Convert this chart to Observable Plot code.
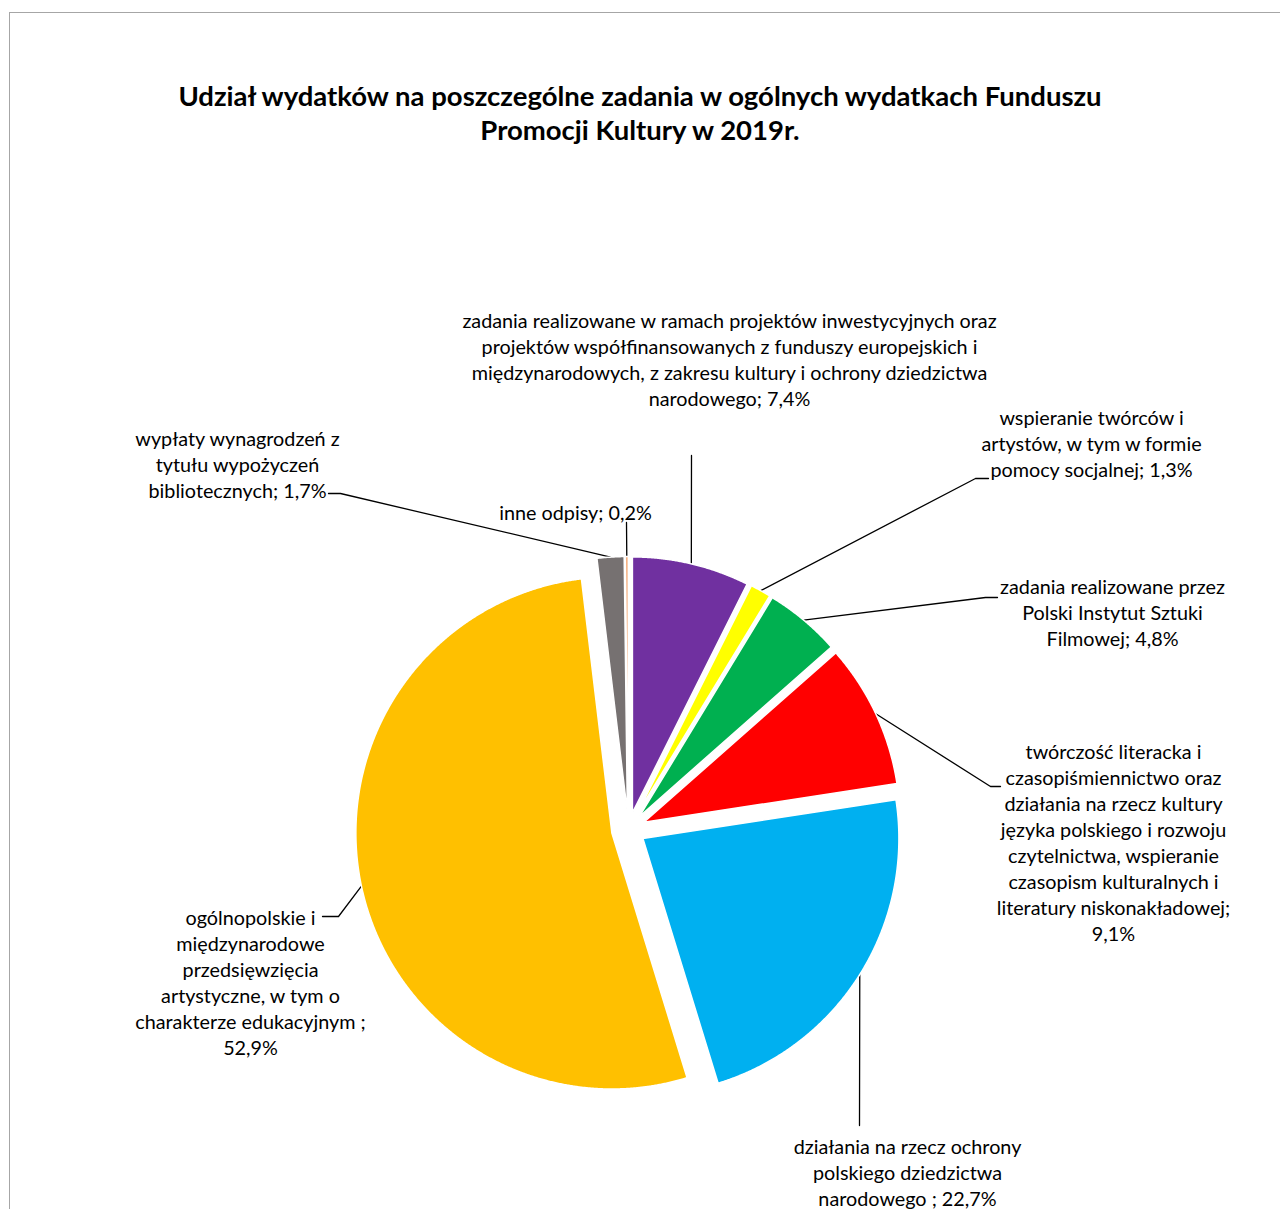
<!DOCTYPE html>
<html>
<head>
<meta charset="utf-8">
<script src="https://cdn.jsdelivr.net/npm/d3@7"></script>
<script src="https://cdn.jsdelivr.net/npm/@observablehq/plot@0.6"></script>
<style>
  html, body { margin: 0; padding: 0; background: #fff; overflow: hidden; }
  #wrap { position: relative; width: 1280px; height: 1209px; overflow: hidden; }
  #frame { position: absolute; left: 9px; top: 12px; width: 1400px; height: 1400px;
           border-left: 1.5px solid #a6a6a6; border-top: 1.5px solid #a6a6a6; box-sizing: border-box; }
  #title { position: relative; height: 170px; box-sizing: border-box; padding-top: 79px;
           text-align: center; font-family: Lato, "Open Sans", sans-serif; font-weight: bold;
           font-size: 27.5px; line-height: 34px; color: #000; }
  #chart { position: relative; }
  #chart svg { background: transparent !important; }
</style>
</head>
<body>
<div id="wrap">
  <div id="frame"></div>
  <div id="title">Udział wydatków na poszczególne zadania w ogólnych wydatkach Funduszu<br>Promocji Kultury w 2019r.</div>
  <div id="chart"></div>
</div>
<script>
// ---- data ----
const categories = [
  "zadania realizowane w ramach projektów inwestycyjnych oraz projektów współfinansowanych z funduszy europejskich i międzynarodowych, z zakresu kultury i ochrony dziedzictwa narodowego",
  "wspieranie twórców i artystów, w tym w formie pomocy socjalnej",
  "zadania realizowane przez Polski Instytut Sztuki Filmowej",
  "twórczość literacka i czasopiśmiennictwo oraz działania na rzecz kultury języka polskiego i rozwoju czytelnictwa, wspieranie czasopism kulturalnych i literatury niskonakładowej",
  "działania na rzecz ochrony polskiego dziedzictwa narodowego",
  "ogólnopolskie i międzynarodowe przedsięwzięcia artystyczne, w tym o charakterze edukacyjnym",
  "wypłaty wynagrodzeń z tytułu wypożyczeń bibliotecznych",
  "inne odpisy"
];
const shares = [7.4, 1.3, 4.8, 9.1, 22.7, 52.9, 1.7, 0.2];
const labelTexts = [
  "zadania realizowane w ramach projektów inwestycyjnych oraz\nprojektów współfinansowanych z funduszy europejskich i\nmiędzynarodowych, z zakresu kultury i ochrony dziedzictwa\nnarodowego; 7,4%",
  "wspieranie twórców i\nartystów, w tym w formie\npomocy socjalnej; 1,3%",
  "zadania realizowane przez\nPolski Instytut Sztuki\nFilmowej; 4,8%",
  "twórczość literacka i\nczasopiśmiennictwo oraz\ndziałania na rzecz kultury\njęzyka polskiego i rozwoju\nczytelnictwa, wspieranie\nczasopism kulturalnych i\nliteratury niskonakładowej;\n9,1%",
  "działania na rzecz ochrony\npolskiego dziedzictwa\nnarodowego ; 22,7%",
  "ogólnopolskie i\nmiędzynarodowe\nprzedsięwzięcia\nartystyczne, w tym o\ncharakterze edukacyjnym ;\n52,9%",
  "wypłaty wynagrodzeń z\ntytułu wypożyczeń\nbibliotecznych; 1,7%",
  "inne odpisy; 0,2%"
];

// ---- styles / layout (not data) ----
const sliceColors = ["#7030a0", "#ffff00", "#00b050", "#ff0000", "#00b0f0", "#ffc000", "#767171", "#f4b183"];
const pieLayout = {cx: 628, cy: 829, r: 256, explode: 17};
// label block centre x, first-line y; leader elbow and end points (page px)
const labelLayout = [
  {x: 729, y: 319, elbow: null, end: [691, 455]},
  {x: 1091, y: 416, elbow: [975, 478], end: [988, 478]},
  {x: 1112, y: 585, elbow: [985, 597], end: [997, 597]},
  {x: 1113, y: 750, elbow: [990, 786], end: [1000, 786]},
  {x: 907, y: 1145, elbow: null, end: [859, 1125]},
  {x: 250, y: 916, elbow: [338, 916], end: [322, 916]},
  {x: 237, y: 437, elbow: [340, 493], end: [328, 493]},
  {x: 575, y: 511, elbow: null, end: [626, 522]}
];
const fontSize = 19.8;
const lineStep = 26;
const titleH = 170;

// ---- geometry from data ----
const arcs = d3.pie().sort(null).value(d => d)(shares);
const {cx, cy, r, explode} = pieLayout;
const pt = (a, R, ox, oy) => ({x: cx + ox + R * Math.sin(a), y: cy + oy - R * Math.cos(a)});

const polys = [];
const leaders = [];
arcs.forEach((a, i) => {
  const mid = (a.startAngle + a.endAngle) / 2;
  const ox = explode * Math.sin(mid), oy = -explode * Math.cos(mid);
  const name = categories[i];
  const tip = pt(0, 0, ox, oy);
  polys.push({name, ...tip});
  const n = Math.max(2, Math.ceil((a.endAngle - a.startAngle) / 0.004));
  for (let k = 0; k <= n; k++) {
    const ang = a.startAngle + (a.endAngle - a.startAngle) * k / n;
    polys.push({name, ...pt(ang, r, ox, oy)});
  }
  polys.push({name, ...tip});
  const L = labelLayout[i];
  const s = pt(mid, r, ox, oy);
  leaders.push({name, x: s.x, y: s.y});
  if (L.elbow) leaders.push({name, x: L.elbow[0], y: L.elbow[1]});
  leaders.push({name, x: L.end[0], y: L.end[1]});
});

const labelRows = labelTexts.map((t, i) => {
  const nLines = t.split("\n").length;
  return {text: t, x: labelLayout[i].x, y: labelLayout[i].y + (nLines - 1) * lineStep / 2};
});

const H = 1209 - titleH;
const chart = Plot.plot({
  width: 1280,
  height: H,
  margin: 0,
  x: {type: "linear", domain: [0, 1280], range: [0, 1280], axis: null},
  y: {type: "linear", domain: [titleH, 1209], range: [0, H], axis: null},
  color: {domain: categories, range: sliceColors},
  style: {fontFamily: "Lato, 'Open Sans', sans-serif", background: "transparent", overflow: "visible"},
  marks: [
    Plot.line(leaders, {x: "x", y: "y", z: "name", stroke: "#000", strokeWidth: 1.3, curve: "linear"}),
    Plot.line(polys, {x: "x", y: "y", z: "name", fill: "name", stroke: "#fff", strokeWidth: 1.5, curve: "linear"}),
    Plot.text(labelRows, {x: "x", y: "y", text: "text", textAnchor: "middle", lineAnchor: "middle",
      lineHeight: lineStep / fontSize, fontSize: fontSize, fill: "#000"})
  ]
});
document.getElementById("chart").appendChild(chart);
</script>
</body>
</html>
